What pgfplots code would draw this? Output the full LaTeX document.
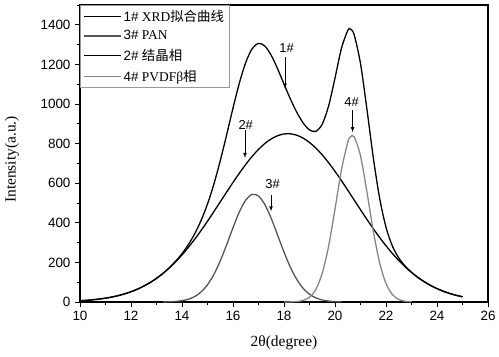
\documentclass[border=0pt]{standalone}
\usepackage{fontspec}
\setmainfont{Liberation Serif}
\setsansfont{Liberation Sans}
\newfontfamily\cjk{Noto Sans CJK SC}
\usepackage{pgfplots}
\pgfplotsset{compat=1.18}
\definecolor{gA}{gray}{0.33}
\definecolor{gB}{gray}{0.52}
\begin{document}
\begin{tikzpicture}
\begin{axis}[
  scale only axis,
  width=408bp, height=297bp,
  xmin=10, xmax=26, ymin=0, ymax=1500,
  xtick={10,12,...,26}, minor xtick={11,13,...,25},
  ytick={0,200,...,1400}, minor ytick={100,300,...,1500},
  xtick pos=left, ytick pos=left,
  tick align=outside,
  major tick length=5bp, minor tick length=3bp,
  axis line style={line width=1.1pt},
  every tick/.style={line width=0.9pt, black},
  /pgf/number format/assume math mode=true,
  /pgf/number format/set thousands separator={},
  ticklabel style={font=\sffamily\fontsize{13.5}{15}\selectfont},
  xticklabel style={yshift=-1bp},
  yticklabel style={xshift=-1bp},
  xlabel={2θ(degree)},
  ylabel={Intensity(a.u.)},
  label style={font=\fontsize{15.5}{17}\selectfont},
  xlabel style={at={(axis description cs:0.5,-0.138)}, anchor=center},
  ylabel style={at={(axis description cs:-0.167,0.48)}, anchor=center},
  legend cell align=left,
  legend style={at={(0,1)}, anchor=north west, draw=gray!80, line width=0.6pt,
    font=\fontsize{13.5}{15}\selectfont, row sep=5pt, inner xsep=3.5pt, inner ysep=3pt,
    nodes={inner xsep=1.5pt, inner ysep=1.5pt}},
  legend image code/.code={\draw[#1] (0bp,0bp) -- (37bp,0bp);},
  every axis plot/.append style={line width=1.3pt, smooth},
]
% 1# XRD fit (sum)
\addplot[black] coordinates {
(10,6.2)(10.25,8.4)(10.5,11.2)(10.75,14.8)(11,19.4)(11.25,25.1)(11.5,32.3)(11.75,41.1)
(12,51.8)(12.25,64.7)(12.5,80.2)(12.75,98.3)(13,119.5)(13.25,143.9)(13.5,173.0)(13.75,206.0)
(14,244.3)(14.25,290.0)(14.5,344.9)(14.75,412.3)(15,495.0)(15.25,595.5)(15.5,713.3)(15.75,844.1)
(16,979.3)(16.25,1106.0)(16.5,1209.9)(16.75,1278.8)(17,1306.1)(17.25,1292.5)(17.5,1245.6)(17.75,1177.5)
(18,1100.7)(18.25,1025.4)(18.5,958.5)(18.75,904.6)(19,869.0)(19.25,861.8)(19.5,898.4)(19.75,990.7)
(20,1131.0)(20.25,1279.6)(20.5,1371.4)(20.6,1378.6)(20.75,1350.3)(21,1204.5)(21.25,975.4)(21.5,730.7)(21.75,524.5)
(22,377.6)(22.25,282.8)(22.5,222.6)(22.75,181.5)(23,150.2)(23.25,124.1)(23.5,102.3)(23.75,83.6)
(24,67.6)(24.25,54.2)(24.5,43.1)(24.75,33.9)(25,26.5)};
\addlegendentry{{\sffamily 1\#} XRD{\cjk 拟合曲线}}
% 3# PAN
\addplot[gA] coordinates {
(13.25,0.4)(13.5,1.2)(13.75,2.9)(14,6.6)(14.25,14.0)(14.5,27.6)(14.75,50.8)(15,87.0)(15.25,139.1)
(15.5,207.6)(15.75,289.0)(16,375.5)(16.25,455.2)(16.5,514.9)(16.75,543.5)(17,535.3)
(17.25,491.9)(17.5,421.8)(17.75,337.5)(18,252.0)(18.25,175.5)(18.5,114.1)(18.75,69.2)
(19,39.2)(19.25,20.7)(19.5,10.2)(19.75,4.7)(20,2.0)(20.25,0.8)};
\addlegendentry{{\sffamily 3\#} PAN}
% 2# crystalline
\addplot[black] coordinates {
(10,6.2)(10.25,8.4)(10.5,11.2)(10.75,14.8)(11,19.4)(11.25,25.1)(11.5,32.3)(11.75,41.1)
(12,51.8)(12.25,64.7)(12.5,80.2)(12.75,98.3)(13,119.5)(13.25,143.9)(13.5,171.8)(13.75,203.1)
(14,237.7)(14.25,276.0)(14.5,317.3)(14.75,361.5)(15,408.0)(15.25,456.4)(15.5,505.7)(15.75,555.1)
(16,603.8)(16.25,650.8)(16.5,695.0)(16.75,735.3)(17,770.8)(17.25,800.6)(17.5,823.8)(17.75,840.0)
(18,848.6)(18.25,849.4)(18.5,842.3)(18.75,827.7)(19,805.8)(19.25,777.2)(19.5,742.8)(19.75,703.4)
(20,659.9)(20.25,613.4)(20.5,565.0)(20.75,515.5)(21,466.1)(21.25,417.6)(21.5,370.6)(21.75,325.9)
(22,284.0)(22.25,245.1)(22.5,209.7)(22.75,177.7)(23,149.2)(23.25,124.1)(23.5,102.3)(23.75,83.6)
(24,67.6)(24.25,54.2)(24.5,43.1)(24.75,33.9)(25,26.5)};
\addlegendentry{{\sffamily 2\#} {\cjk 结晶相}}
% 4# PVDF beta
\addplot[gB] coordinates {
(18,0.1)(18.25,0.5)(18.5,2.1)(18.75,7.7)(19,24.0)(19.25,63.9)(19.5,145.4)(19.75,282.6)
(20,469.1)(20.25,665.4)(20.5,806.4)(20.6,833.3)(20.75,834.8)(21,738.4)(21.25,557.8)(21.5,360.1)
(21.75,198.6)(22,93.6)(22.25,37.7)(22.5,12.9)(22.75,3.8)(23,1.0)};
\addlegendentry{{\sffamily 4\#} PVDFβ{\cjk 相}}
% annotations
\begin{scope}[font=\sffamily\fontsize{13}{15}\selectfont]
\node at (axis cs:18.1,1285) {1\#};
\draw[-latex, line width=0.7pt] (axis cs:18.04,1236) -- (axis cs:18.04,1078);
\node at (axis cs:16.5,893) {2\#};
\draw[-latex, line width=0.7pt] (axis cs:16.47,868) -- (axis cs:16.47,728);
\node at (axis cs:17.55,595) {3\#};
\draw[-latex, line width=0.7pt] (axis cs:17.49,540) -- (axis cs:17.49,458);
\node at (axis cs:20.65,1010) {4\#};
\draw[-latex, line width=0.7pt] (axis cs:20.69,970) -- (axis cs:20.69,858);
\end{scope}
\end{axis}
\pgfresetboundingbox
\useasboundingbox (-80bp,-55bp) rectangle (419bp,302bp);
\end{tikzpicture}
\end{document}
